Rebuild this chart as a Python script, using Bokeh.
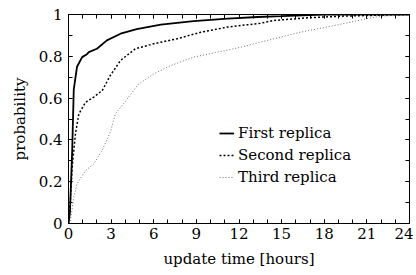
from bokeh.plotting import figure
from bokeh.models import LinearAxis, Range1d, FixedTicker, CustomJSTickFormatter, Legend, LegendItem
from bokeh.embed import file_html
from bokeh.resources import INLINE

first_x = [0, 0.1, 0.26, 0.37, 0.6, 0.96, 1.3, 1.43, 2.0, 2.7, 3.66, 4.8, 6.5, 8.8, 11.2, 13.3, 15, 18, 24]
first_y = [0, 0.05, 0.35, 0.64, 0.75, 0.796, 0.81, 0.82, 0.836, 0.876, 0.908, 0.93, 0.952, 0.968, 0.98, 0.988, 0.992, 1.0, 1.0]

second_x = [0, 0.14, 0.26, 0.49, 0.73, 1.2, 1.78, 2.37, 2.96, 3.66, 4.7, 6.0, 7.65, 9.3, 11.2, 13.5, 14.4, 16.8, 19.2, 21.5, 24]
second_y = [0, 0.12, 0.27, 0.43, 0.525, 0.58, 0.605, 0.636, 0.71, 0.78, 0.836, 0.86, 0.884, 0.915, 0.94, 0.958, 0.971, 0.984, 0.992, 0.996, 1.0]

third_x = [0, 0.14, 0.37, 0.61, 1.2, 1.78, 2.37, 2.96, 3.3, 3.9, 4.9, 6.0, 7.2, 8.8, 10.5, 11.9, 14.0, 16.3, 18.7, 21.0, 22.0, 24]
third_y = [0, 0.014, 0.126, 0.19, 0.254, 0.285, 0.35, 0.44, 0.525, 0.575, 0.665, 0.716, 0.756, 0.796, 0.82, 0.84, 0.876, 0.915, 0.947, 0.98, 0.992, 1.0]

x_major = [0, 3, 6, 9, 12, 15, 18, 21, 24]
x_minor = list(range(0, 25))
y_major = [0, 0.2, 0.4, 0.6, 0.8, 1.0]
y_minor = [0, 0.1, 0.2, 0.3, 0.4, 0.5, 0.6, 0.7, 0.8, 0.9, 1.0]
y_labels = {0: "0", 0.2: "0.2", 0.4: "0.4", 0.6: "0.6", 0.8: "0.8", 1: "1"}

FONT = "DejaVu Serif"
FS = "15px"

p = figure(width=413, height=273, output_backend="svg", toolbar_location=None,
           x_range=Range1d(0, 24), y_range=Range1d(0, 1),
           min_border_left=68, min_border_right=4, min_border_top=14, min_border_bottom=50)
p.grid.visible = False
p.outline_line_color = "black"
p.outline_line_width = 1
p.background_fill_color = "white"
p.border_fill_color = "white"

l1 = p.line(first_x, first_y, line_color="black", line_width=1.8)
l2 = p.line(second_x, second_y, line_color="black", line_width=1.5, line_dash="2 2")
l3 = p.line(third_x, third_y, line_color="#6e6e6e", line_width=1, line_dash="1 2")

def style(ax, ticks, minor):
    ax.ticker = FixedTicker(ticks=ticks, minor_ticks=minor)
    ax.major_tick_in = 4
    ax.major_tick_out = 0
    ax.minor_tick_in = 4
    ax.minor_tick_out = 0
    ax.axis_line_color = "black"
    ax.major_tick_line_color = "black"
    ax.minor_tick_line_color = "black"
    ax.major_label_text_font = FONT
    ax.major_label_text_font_size = FS
    ax.major_label_text_color = "black"
    ax.axis_label_text_font = FONT
    ax.axis_label_text_font_size = FS
    ax.axis_label_text_font_style = "normal"
    ax.axis_label_text_color = "black"

xa = p.xaxis[0]
style(xa, x_major, x_minor)
xa.axis_label = "update time [hours]"
xa.major_label_standoff = 4
xa.axis_label_standoff = 8

ya = p.yaxis[0]
style(ya, y_major, y_minor)
ya.axis_label = "probability"
ya.major_label_standoff = 6
ya.axis_label_standoff = 7
ya.major_label_overrides = y_labels

for loc, ticks, minor in (("above", x_major, x_minor), ("right", y_major, y_minor)):
    ax = LinearAxis()
    style(ax, ticks, minor)
    ax.formatter = CustomJSTickFormatter(code="return ''")
    ax.major_label_standoff = 0
    p.add_layout(ax, loc)

legend = Legend(items=[LegendItem(label="First replica", renderers=[l1]),
                       LegendItem(label="Second replica", renderers=[l2]),
                       LegendItem(label="Third replica", renderers=[l3])],
                location=(151, 37))
legend.background_fill_alpha = 0
legend.border_line_color = None
legend.label_text_font = FONT
legend.label_text_font_size = FS
legend.label_text_color = "black"
legend.glyph_width = 15
legend.glyph_height = 18
legend.spacing = 4
legend.padding = 2
legend.margin = 0
legend.label_standoff = 4
legend.label_height = 18
p.add_layout(legend, "center")

open("out.html", "w").write(file_html(p, INLINE))
